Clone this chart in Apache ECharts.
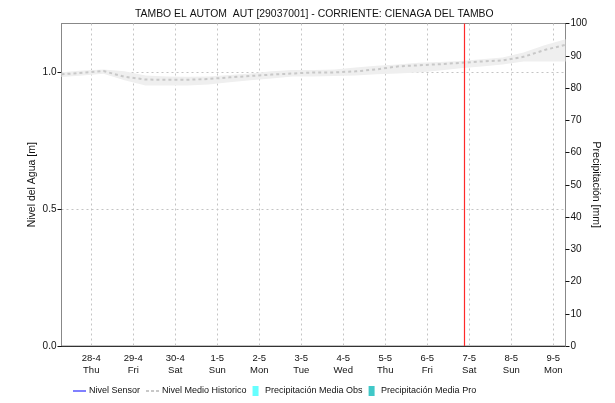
<!DOCTYPE html>
<html>
<head>
<meta charset="utf-8">
<script src="https://cdn.jsdelivr.net/npm/echarts@6/dist/echarts.min.js"></script>
<style>
html,body{margin:0;padding:0;background:#fff;}
#c{width:615px;height:403px;}
</style>
</head>
<body>
<div id="c"></div>
<script>
// ---- data ----
const titleText = 'TAMBO EL AUTOM  AUT [29037001] - CORRIENTE: CIENAGA DEL TAMBO';
const times = [
 '2022-04-27 07:00','2022-04-27 19:00','2022-04-28 07:00','2022-04-28 19:00',
 '2022-04-29 07:00','2022-04-29 19:00','2022-04-30 07:00','2022-04-30 19:00',
 '2022-05-01 07:00','2022-05-01 19:00','2022-05-02 07:00','2022-05-02 19:00',
 '2022-05-03 07:00','2022-05-03 19:00','2022-05-04 07:00','2022-05-04 19:00',
 '2022-05-05 07:00','2022-05-05 19:00','2022-05-06 07:00','2022-05-06 19:00',
 '2022-05-07 07:00','2022-05-07 19:00','2022-05-08 07:00','2022-05-08 19:00',
 '2022-05-09 07:00'
];
const nivelMedio = [0.994,1.000,1.006,0.985,0.975,0.974,0.974,0.977,0.983,0.988,0.993,0.997,1.001,1.001,1.005,1.012,1.023,1.027,1.031,1.036,1.041,1.045,1.058,1.083,1.102];
const bandHigh   = [1.002,1.008,1.012,1.005,0.990,0.986,0.985,0.986,0.992,0.997,1.005,1.010,1.010,1.012,1.019,1.025,1.030,1.036,1.039,1.043,1.049,1.056,1.074,1.100,1.122];
const bandLow    = [0.984,0.990,0.996,0.972,0.953,0.953,0.953,0.957,0.965,0.972,0.979,0.986,0.986,0.988,0.990,0.994,0.997,1.001,1.008,1.016,1.023,1.030,1.041,1.041,1.041];
const nivelSensor = [];
const precipObs = [];
const precipPro = [];
const nowTime = '2022-05-06 21:00';
const xMin = '2022-04-27 07:00';
const xMax = '2022-05-09 07:00';
const leftTicks = [0, 0.5, 1.0];
const weekDays = ['Sun','Mon','Tue','Wed','Thu','Fri','Sat'];
const legendNames = ['Nivel Sensor','Nivel Medio Historico','Precipitación Media Obs','Precipitación Media Pro'];

// ---- chart ----
const FONT = 'Liberation Sans';
const toTs = s => { const [d,t] = s.split(' '); const [y,m,dd] = d.split('-').map(Number); const [h,mi] = t.split(':').map(Number); return new Date(y, m-1, dd, h, mi).getTime(); };
const chart = echarts.init(document.getElementById('c'), null, {renderer:'canvas'});
const pair = arr => arr.map((v,i)=>[toTs(times[i]), v]);
const bandDiff = bandHigh.map((v,i)=>[toTs(times[i]), +(v - bandLow[i]).toFixed(4)]);

chart.setOption({
  animation:false,
  backgroundColor:'#ffffff',
  textStyle:{fontFamily:FONT},
  title:{
    text:titleText, left:130, top:4,
    textStyle:{fontSize:10.4, fontWeight:'normal', color:'#111', fontFamily:FONT}
  },
  grid:{left:61.5, right:49.5, top:23.5, bottom:57, show:true, borderColor:'#888', borderWidth:1},
  legend:{
    data:[
      {name:legendNames[0], icon:'path://M0,4.5h13v1h-13z'},
      {name:legendNames[1], icon:'path://M0,4h3v2h-3zM5,4h3v2h-3zM10,4h3v2h-3z'},
      {name:legendNames[2], icon:'path://M0,0h6v10h-6z'},
      {name:legendNames[3], icon:'path://M0,0h6v10h-6z'}
    ],
    bottom:2, left:68, itemWidth:13, itemHeight:10, itemGap:6,
    textStyle:{fontSize:9, color:'#111', fontFamily:FONT, padding:[0,0,0,-2]}
  },
  xAxis:{
    type:'time', min:toTs(xMin), max:toTs(xMax),
    minInterval:86400000, maxInterval:86400000,
    axisLine:{show:true, lineStyle:{color:'#222', type:[1,1], width:1}},
    axisTick:{show:false},
    axisLabel:{
      fontSize:9.5, color:'#111', lineHeight:12, margin:6, fontFamily:FONT,
      formatter:function(v){const d=new Date(v);return d.getDate()+'-'+(d.getMonth()+1)+'\n'+weekDays[d.getDay()];}
    },
    splitLine:{show:true, lineStyle:{color:'#c4c4c4', type:[2,3], width:1}}
  },
  yAxis:[
    {
      type:'value', min:0, max:1.18, interval:0.5, position:'left',
      name:'Nivel del Agua [m]', nameLocation:'middle', nameGap:24, nameRotate:90, nameMoveOverlap:false,
      nameTextStyle:{fontSize:10.5, color:'#111', fontFamily:FONT},
      axisLine:{show:true, lineStyle:{color:'#888'}},
      axisTick:{show:true, length:4, inside:false, lineStyle:{color:'#111'}, customValues:leftTicks},
      axisLabel:{fontSize:10, color:'#111', margin:5, customValues:leftTicks, formatter:v=>v.toFixed(1)},
      splitLine:{show:true, lineStyle:{color:'#c4c4c4', type:[2,3]}}
    },
    {
      type:'value', min:0, max:100, interval:10, position:'right',
      name:'Precipitación [mm]', nameLocation:'middle', nameGap:25, nameRotate:-90, nameMoveOverlap:false,
      nameTextStyle:{fontSize:10.5, color:'#111', fontFamily:FONT},
      axisLine:{show:true, lineStyle:{color:'#888'}},
      axisTick:{show:true, length:4, lineStyle:{color:'#111'}},
      axisLabel:{fontSize:10, color:'#111', margin:5},
      splitLine:{show:false}
    }
  ],
  series:[
    {name:'bandLowS', type:'line', stack:'band', data:pair(bandLow), symbol:'none',
     lineStyle:{opacity:0}, silent:true, z:1},
    {name:'bandDiffS', type:'line', stack:'band', data:bandDiff, symbol:'none',
     lineStyle:{opacity:0}, areaStyle:{color:'#efefef', opacity:1}, silent:true, z:1},
    {name:legendNames[0], type:'line', data:nivelSensor, symbol:'none', color:'#0000ff',
     lineStyle:{color:'#0000ff', width:1.5}},
    {name:legendNames[1], type:'line', data:pair(nivelMedio), symbol:'none', color:'#c8c8c8',
     lineStyle:{color:'#c8c8c8', width:2, type:[3,3]}, z:3,
     markLine:{silent:true, symbol:'none', label:{show:false}, animation:false,
       lineStyle:{color:'#ff2a2a', type:'solid', width:1.2},
       data:[{xAxis:toTs(nowTime)}]}},
    {name:legendNames[2], type:'line', yAxisIndex:1, data:precipObs, symbol:'none', color:'#66ffff'},
    {name:legendNames[3], type:'line', yAxisIndex:1, data:precipPro, symbol:'none', color:'#40c8c8'}
  ]
});
</script>
</body>
</html>
